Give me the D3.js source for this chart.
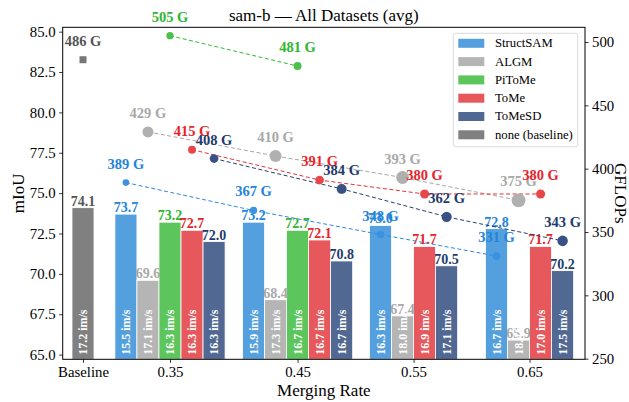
<!DOCTYPE html>
<html>
<head>
<meta charset="utf-8">
<script src="https://cdn.jsdelivr.net/npm/d3@7"></script>
<style>
  body { margin: 0; background: #fff; }
  svg text { font-family: "Liberation Serif", "Times New Roman", serif; }
</style>
</head>
<body>
<div id="chart"></div>
<script>
// ---- data ----
var groups = ["Baseline", "0.35", "0.45", "0.55", "0.65"];
var groupPos = [-0.75, 0, 1.1, 2.1, 3.1];   // position of each group on the x axis
var rates = ["0.35", "0.45", "0.55", "0.65"];
var methods = ["StructSAM", "ALGM", "PiToMe", "ToMe", "ToMeSD"];

var baseMiou = 74.1, baseGflops = 486, baseThr = 17.2;

var miouStructSAM = [73.7, 73.2, 73.0, 72.8];
var miouALGM      = [69.6, 68.4, 67.4, 65.9];
var miouPiToMe    = [73.2, 72.7, null, null];
var miouToMe      = [72.7, 72.1, 71.7, 71.7];
var miouToMeSD    = [72.0, 70.8, 70.5, 70.2];

var gflStructSAM = [389, 367, 348, 331];
var gflALGM      = [429, 410, 393, 375];
var gflPiToMe    = [505, 481, null, null];
var gflToMe      = [415, 391, 380, 380];
var gflToMeSD    = [408, 384, 362, 343];

var thrStructSAM = [15.5, 15.9, 16.3, 16.7];
var thrALGM      = [17.1, 17.3, 18.0, 18.4];
var thrPiToMe    = [16.3, 16.7, null, null];
var thrToMe      = [16.3, 16.7, 16.9, 17.0];
var thrToMeSD    = [16.3, 16.7, 17.1, 17.5];

var miou = [miouStructSAM, miouALGM, miouPiToMe, miouToMe, miouToMeSD];
var gfl  = [gflStructSAM, gflALGM, gflPiToMe, gflToMe, gflToMeSD];
var thr  = [thrStructSAM, thrALGM, thrPiToMe, thrToMe, thrToMeSD];

// ---- style ----
var barColor  = ["#54a0de", "#b5b5b5", "#5cc55c", "#e6585b", "#506892"];
var textColor = ["#2384dc", "#a8a8a8", "#2fb52f", "#e8242a", "#1f3b6d"];
var lineColor = ["#2f8ae0", "#a6a6a6", "#34ba34", "#e63236", "#27406f"];
var dotColor  = ["#3a92e0", "#b0b0b0", "#4cc04c", "#e6474a", "#3a5283"];
var baseColor = "#808080", baseText = "#555555";

var W = 629, H = 402;
var margin = {top: 27.3, right: 44, bottom: 42.7, left: 62.7},
    width = W - margin.left - margin.right,
    height = H - margin.top - margin.bottom;

var svg = d3.select("#chart").append("svg")
    .attr("width", W).attr("height", H)
  .append("g")
    .attr("transform", "translate(" + margin.left + "," + margin.top + ")");

var x = d3.scaleLinear().domain([-0.925, 3.578]).range([0, width]);
var y = d3.scaleLinear().domain([64.71, 85.27]).range([height, 0]);
var y2 = d3.scaleLinear().domain([249.5, 511.6]).range([height, 0]);
var barW = 0.19;

// bar list
var bars = [{g: 0, m: -1, v: baseMiou, t: baseThr, gf: baseGflops, off: 0}];
rates.forEach(function(r, ri) {
  var present = methods.map(function(m, mi) { return mi; }).filter(function(mi) { return miou[mi][ri] != null; });
  present.forEach(function(mi, k) {
    bars.push({g: ri + 1, m: mi, v: miou[mi][ri], t: thr[mi][ri], gf: gfl[mi][ri],
               off: (k - (present.length - 1) / 2) * barW});
  });
});
bars.forEach(function(d) { d.cx = x(groupPos[d.g] + d.off); });

svg.selectAll("rect.bar").data(bars).enter().append("rect")
  .attr("class", "bar")
  .attr("x", function(d) { return x(groupPos[d.g] + d.off - barW / 2); })
  .attr("width", x(barW) - x(0))
  .attr("y", function(d) { return y(d.v); })
  .attr("height", function(d) { return height - y(d.v); })
  .attr("fill", function(d) { return d.m < 0 ? baseColor : barColor[d.m]; })
  .attr("stroke", "#fff").attr("stroke-width", 0.8);

svg.selectAll("text.val").data(bars).enter().append("text")
  .attr("class", "val")
  .attr("x", function(d) { return d.cx; })
  .attr("y", function(d) { return y(d.v) - 2; })
  .attr("text-anchor", "middle")
  .style("font-size", "14px").style("font-weight", "bold")
  .attr("fill", function(d) { return d.m < 0 ? baseText : textColor[d.m]; })
  .text(function(d) { return d.v.toFixed(1); });

svg.selectAll("text.thr").data(bars).enter().append("text")
  .attr("class", "thr")
  .attr("transform", function(d) { return "translate(" + d.cx + "," + (height - 4.5) + ") rotate(-90)"; })
  .attr("dominant-baseline", "central")
  .style("font-size", "12px").style("font-weight", "bold")
  .attr("fill", "#fff")
  .text(function(d) { return d.t.toFixed(1) + " im/s"; });

// GFLOPs lines
methods.forEach(function(m, mi) {
  var pts = bars.filter(function(d) { return d.m === mi; });
  svg.append("path").datum(pts)
    .attr("fill", "none")
    .attr("stroke", lineColor[mi]).attr("stroke-width", 1)
    .attr("stroke-dasharray", "4,2.5")
    .attr("d", d3.line().x(function(d) { return d.cx; }).y(function(d) { return y2(d.gf); }));
});

var pts = bars.filter(function(d) { return d.m >= 0; });
svg.selectAll("circle.dot").data(pts).enter().append("circle")
  .attr("class", "dot")
  .attr("cx", function(d) { return d.cx; })
  .attr("cy", function(d) { return y2(d.gf); })
  .attr("r", function(d) { return Math.sqrt(9 + 4.8 * (baseMiou - d.v)); })
  .attr("fill", function(d) { return dotColor[d.m]; });

svg.append("rect")
  .attr("x", bars[0].cx - 3.5).attr("y", y2(baseGflops) - 3.5)
  .attr("width", 7).attr("height", 7)
  .attr("fill", "#777");

svg.selectAll("text.gfl").data(bars).enter().append("text")
  .attr("class", "gfl")
  .attr("x", function(d) { return d.cx; })
  .attr("y", function(d) { return y2(d.gf) - 14; })
  .attr("text-anchor", "middle")
  .style("font-size", "14.5px").style("font-weight", "bold")
  .attr("fill", function(d) { return d.m < 0 ? baseText : textColor[d.m]; })
  .text(function(d) { return d.gf + " G"; });

// axes
var yAxis = svg.append("g")
  .call(d3.axisLeft(y).tickValues([65, 67.5, 70, 72.5, 75, 77.5, 80, 82.5, 85])
        .tickFormat(d3.format(".1f")).tickSizeOuter(0).tickSize(3.5).tickPadding(3.5));
var y2Axis = svg.append("g")
  .attr("transform", "translate(" + width + ",0)")
  .call(d3.axisRight(y2).tickValues([250, 300, 350, 400, 450, 500])
        .tickSizeOuter(0).tickSize(3.5).tickPadding(3.5));
var xAxis = svg.append("g")
  .attr("transform", "translate(0," + height + ")")
  .call(d3.axisBottom(x).tickValues(groupPos)
        .tickFormat(function(d, i) { return groups[i]; })
        .tickSizeOuter(0).tickSize(3.5).tickPadding(4));
[yAxis, y2Axis, xAxis].forEach(function(a) {
  a.selectAll("text").style("font-size", "14.8px").attr("fill", "#000")
   .style("font-family", "'Liberation Serif', serif");
  a.selectAll(".domain").remove();
  a.selectAll("line").attr("stroke", "#000").attr("stroke-width", 0.8);
});

svg.append("rect")
  .attr("width", width).attr("height", height)
  .attr("fill", "none").attr("stroke", "#000").attr("stroke-width", 1);

// labels
svg.append("text")
  .attr("x", width / 2).attr("y", -6.5)
  .attr("text-anchor", "middle").style("font-size", "17px")
  .text("sam-b \u2014 All Datasets (avg)");
svg.append("text")
  .attr("x", width / 2).attr("y", height + 37)
  .attr("text-anchor", "middle").style("font-size", "17px")
  .text("Merging Rate");
svg.append("text")
  .attr("transform", "translate(-39," + height / 2 + ") rotate(-90)")
  .attr("text-anchor", "middle").style("font-size", "17px")
  .text("mIoU");
svg.append("text")
  .attr("transform", "translate(" + (width + 30) + "," + height / 2 + ") rotate(90)")
  .attr("text-anchor", "middle").style("font-size", "17px")
  .text("GFLOPs");

// legend
var legNames = methods.concat(["none (baseline)"]);
var legColors = barColor.concat([baseColor]);
var leg = svg.append("g").attr("transform", "translate(" + (453.3 - margin.left) + "," + (33.3 - margin.top) + ")");
leg.append("rect")
  .attr("width", 124.4).attr("height", 113.4).attr("rx", 2)
  .attr("fill", "#fff").attr("fill-opacity", 0.85)
  .attr("stroke", "#d0d0d0").attr("stroke-width", 0.8);
legNames.forEach(function(n, i) {
  leg.append("rect")
    .attr("x", 5).attr("y", 10 + i * 18.3 - 4.5)
    .attr("width", 26).attr("height", 9)
    .attr("fill", legColors[i]);
  leg.append("text")
    .attr("x", 41.7).attr("y", 10 + i * 18.3)
    .attr("dominant-baseline", "central")
    .style("font-size", "12.7px")
    .text(n);
});
</script>
</body>
</html>
